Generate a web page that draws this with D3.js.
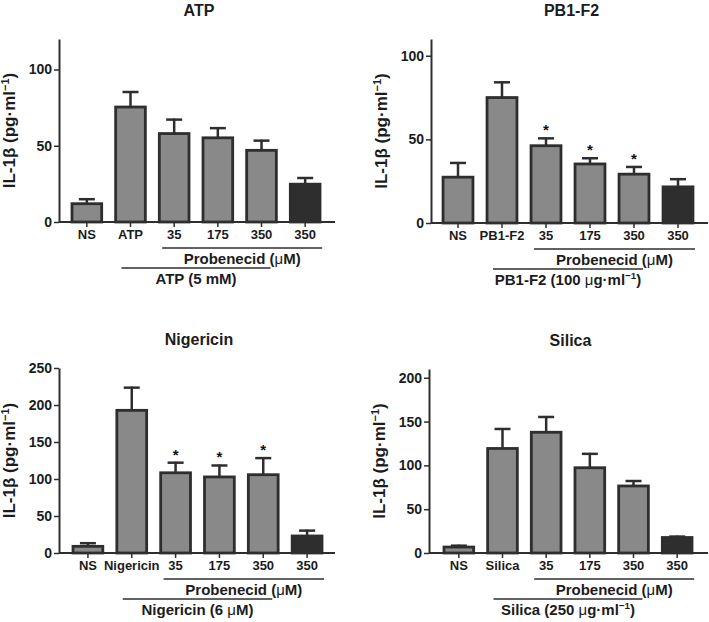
<!DOCTYPE html>
<html>
<head>
<meta charset="utf-8">
<script src="https://cdn.jsdelivr.net/npm/d3@7"></script>
<style>
  body { margin: 0; background: #fff; }
  svg { display: block; font-family: "Liberation Sans", Arial, sans-serif; font-weight: bold; }
</style>
</head>
<body>
<script>
// data
const titles = ["ATP", "PB1-F2", "Nigericin", "Silica"];
const xLabels = [
  ["NS", "ATP", "35", "175", "350", "350"],
  ["NS", "PB1-F2", "35", "175", "350", "350"],
  ["NS", "Nigericin", "35", "175", "350", "350"],
  ["NS", "Silica", "35", "175", "350", "350"]
];
const means = [
  [12, 75.4, 58, 55.2, 47, 24.8],
  [27.4, 75, 46.2, 35.3, 29.2, 21.6],
  [9, 192.8, 108.4, 102.8, 105.8, 23],
  [6.8, 119.3, 137.8, 97.3, 76.5, 17.7]
];
const sems = [
  [3.6, 10.5, 9.8, 7, 7, 4.7],
  [9.1, 9.7, 5, 4, 4.9, 5.2],
  [5.6, 32, 15, 16.8, 23.8, 8.6],
  [2.7, 23.4, 18.6, 17, 6.8, 2.2]
];
const stars = [
  [0, 0, 0, 0, 0, 0],
  [0, 0, 1, 1, 1, 0],
  [0, 0, 1, 1, 1, 0],
  [0, 0, 0, 0, 0, 0]
];
const yMax = [120, 110, 250, 210];
const yTicks = [[0, 50, 100], [0, 50, 100], [0, 50, 100, 150, 200, 250], [0, 50, 100, 150, 200]];
const probLabel = "Probenecid (μM)";
const treatLabels = ["ATP (5 mM)", "PB1-F2 (100 μg·ml⁻¹)", "Nigericin (6 μM)", "Silica (250 μg·ml⁻¹)"];
const yLabel = "IL-1β (pg·ml⁻¹)";

// panel frames (layout only)
const frames = [
  { ax: 59, top: 39, y0: 222, band: [65, 327], axEnd: 335 },
  { ax: 431, top: 39, y0: 223, band: [436, 700], axEnd: 708 },
  { ax: 59, top: 368, y0: 553, band: [66, 329], axEnd: 335 },
  { ax: 429, top: 369, y0: 553, band: [437, 699], axEnd: 708 }
];

const ink = "#2e2e2e";
const fillGray = "#898989";
const textInk = "#1c1c1c";

const svg = d3.select("body").append("svg")
  .attr("width", 709)
  .attr("height", 622);

// writes text with a thin mu and a superscript -1
function richText(sel, str) {
  const parts = str.split(/(μ|⁻¹)/).filter(s => s.length);
  let raised = false;
  parts.forEach(p => {
    const t = sel.append("tspan");
    if (p === "μ") {
      t.text("μ").attr("font-weight", "normal");
      if (raised) { t.attr("dy", 6); raised = false; }
    } else if (p === "⁻¹") {
      t.text("−1").attr("font-size", "0.65em").attr("dy", -6);
      raised = true;
    } else {
      t.text(p);
      if (raised) { t.attr("dy", 6); raised = false; }
    }
  });
}

frames.forEach((f, i) => {
  const g = svg.append("g");

  const x = d3.scaleBand()
    .domain(d3.range(6))
    .range(f.band)
    .paddingInner(0.32)
    .paddingOuter(0.16);

  const y = d3.scaleLinear()
    .domain([0, yMax[i]])
    .range([f.y0, f.top]);

  const cx = j => x(j) + x.bandwidth() / 2;

  // title
  g.append("text")
    .attr("x", (f.ax + f.axEnd) / 2 + 2)
    .attr("y", f.top - 23)
    .attr("text-anchor", "middle")
    .attr("font-size", 16)
    .attr("fill", textInk)
    .text(titles[i]);

  // y label
  const yl = g.append("text")
    .attr("transform", `translate(${f.ax - 44},${(f.top + f.y0) / 2}) rotate(-90)`)
    .attr("text-anchor", "middle")
    .attr("font-size", 17)
    .attr("fill", textInk);
  richText(yl, yLabel);

  // y axis
  const yAxis = g.append("g")
    .attr("transform", `translate(${f.ax},0)`)
    .call(d3.axisLeft(y).tickValues(yTicks[i]).tickSize(5).tickSizeOuter(0).tickPadding(2));
  yAxis.select(".domain").attr("stroke", ink).attr("stroke-width", 2);
  yAxis.selectAll(".tick line").attr("stroke", ink).attr("stroke-width", 1.5);
  yAxis.selectAll(".tick text")
    .attr("font-size", 14)
    .attr("font-family", "Liberation Sans, Arial, sans-serif")
    .attr("font-weight", "bold")
    .attr("fill", textInk);

  // bars
  g.selectAll("rect.bar").data(means[i]).enter().append("rect")
    .attr("class", "bar")
    .attr("x", (d, j) => x(j))
    .attr("width", x.bandwidth())
    .attr("y", d => y(d))
    .attr("height", d => y(0) - y(d))
    .attr("fill", (d, j) => j === 5 ? ink : fillGray)
    .attr("stroke", ink)
    .attr("stroke-width", 2.8);

  // error bars (upper only)
  const eb = g.selectAll("g.err").data(means[i]).enter().append("g").attr("class", "err");
  eb.append("line")
    .attr("x1", (d, j) => cx(j)).attr("x2", (d, j) => cx(j))
    .attr("y1", d => y(d))
    .attr("y2", (d, j) => y(d + sems[i][j]))
    .attr("stroke", ink).attr("stroke-width", 2.5);
  eb.append("line")
    .attr("x1", (d, j) => cx(j) - 8).attr("x2", (d, j) => cx(j) + 8)
    .attr("y1", (d, j) => y(d + sems[i][j]) + 1)
    .attr("y2", (d, j) => y(d + sems[i][j]) + 1)
    .attr("stroke", ink).attr("stroke-width", 2.5);

  // significance stars
  g.selectAll("text.star").data(means[i].map((d, j) => ({ d, j })).filter(o => stars[i][o.j])).enter()
    .append("text")
    .attr("class", "star")
    .attr("x", o => cx(o.j))
    .attr("y", o => y(o.d + sems[i][o.j]) - 2)
    .attr("text-anchor", "middle")
    .attr("font-size", 15)
    .attr("fill", "#111")
    .text("*");

  // x axis
  g.append("line")
    .attr("x1", f.ax).attr("x2", f.axEnd)
    .attr("y1", f.y0).attr("y2", f.y0)
    .attr("stroke", ink).attr("stroke-width", 2);
  const xAxis = g.append("g")
    .attr("transform", `translate(0,${f.y0})`)
    .call(d3.axisBottom(x).tickSize(5).tickSizeOuter(0).tickPadding(3).tickFormat(j => xLabels[i][j]));
  xAxis.select(".domain").remove();
  xAxis.selectAll(".tick line").attr("stroke", ink).attr("stroke-width", 1.5);
  xAxis.selectAll(".tick text")
    .attr("font-size", 13)
    .attr("font-family", "Liberation Sans, Arial, sans-serif")
    .attr("font-weight", "bold")
    .attr("fill", textInk);

  // probenecid bracket
  const p1 = cx(2) - 12, p2 = cx(5) + 17;
  g.append("line")
    .attr("x1", p1).attr("x2", p2)
    .attr("y1", f.y0 + 26).attr("y2", f.y0 + 26)
    .attr("stroke", ink).attr("stroke-width", 1.6);
  const pt = g.append("text")
    .attr("x", (p1 + p2) / 2)
    .attr("y", f.y0 + 42)
    .attr("text-anchor", "middle")
    .attr("font-size", 15)
    .attr("fill", textInk);
  richText(pt, probLabel);

  // treatment bracket
  const t1 = cx(1) - 9, t2 = cx(4) + 9;
  g.append("line")
    .attr("x1", t1).attr("x2", t2)
    .attr("y1", f.y0 + 46).attr("y2", f.y0 + 46)
    .attr("stroke", ink).attr("stroke-width", 1.6);
  const tt = g.append("text")
    .attr("x", (t1 + t2) / 2)
    .attr("y", f.y0 + 62)
    .attr("text-anchor", "middle")
    .attr("font-size", 15)
    .attr("fill", textInk);
  richText(tt, treatLabels[i]);
});
</script>
</body>
</html>
